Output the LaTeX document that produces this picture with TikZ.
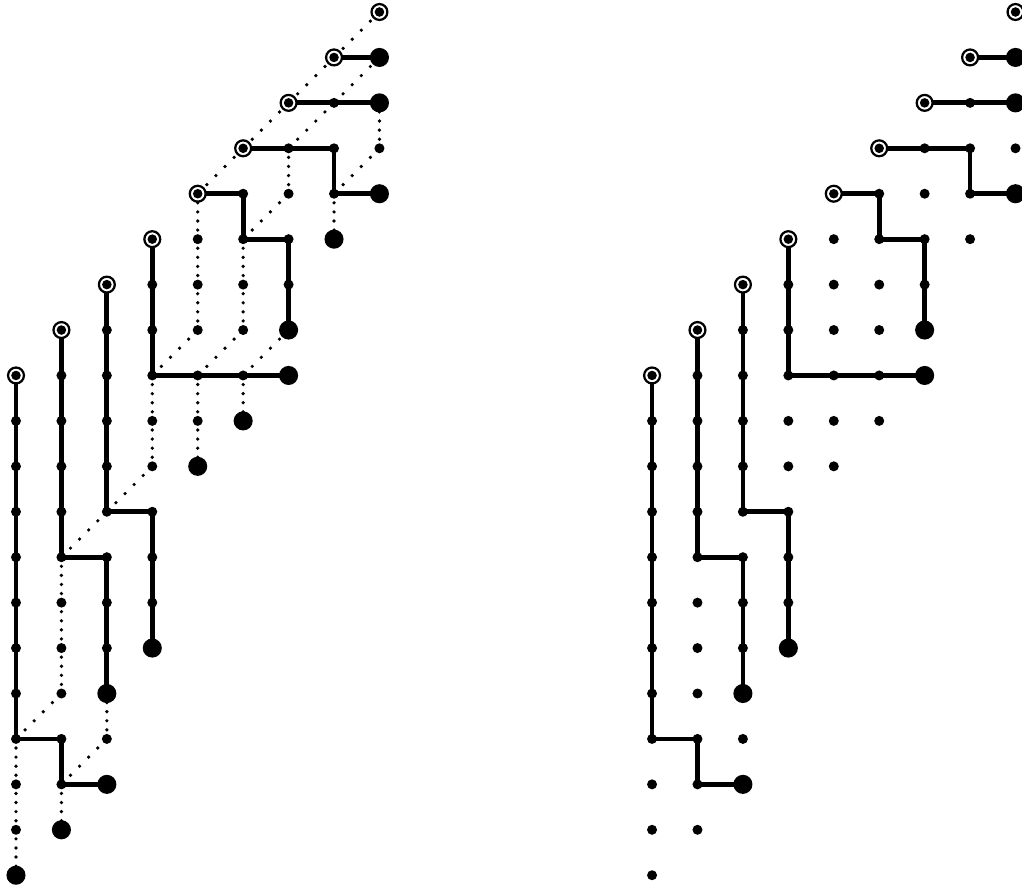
\documentclass[tikz,border=0pt]{standalone}
\usetikzlibrary{backgrounds}
\tikzset{
  smalldot/.style={circle, fill=black, inner sep=0pt, minimum size=0.22cm},
  bigdot/.style={circle, fill=black, inner sep=0pt, minimum size=0.42cm},
  startdot/.style={circle, draw=black, fill=white, line width=1.4pt, inner sep=0pt, minimum size=0.35cm,
    path picture={\fill[black] (path picture bounding box.center) circle (0.105cm);}},
  solidpath/.style={line width=3pt, line cap=round, line join=round},
  vdots/.style={line width=2.3pt, line cap=round, dash pattern=on 0pt off 0.2cm},
  ddots/.style={line width=2.3pt, line cap=round, dash pattern=on 0pt off 0.28284cm},
}
\makeatletter
\def\markbig#1#2{\foreach \p in {#2}{\expandafter\gdef\csname big#1-\p\endcsname{}}}
\makeatother
\markbig{L}{8-1,8-2,8-4,6-7,6-8,3-14,2-15,2-17,7-5,5-9,4-10,1-18,0-19}
\markbig{R}{8-1,8-2,8-4,6-7,6-8,3-14,2-15,2-17}
\begin{document}
\begin{tikzpicture}
\useasboundingbox (-0.352,0.264) rectangle (22.143,-19.242);
% lattice points
\foreach \side/\dx in {L/0,R/14} {
  \foreach \r/\lo/\hi in {0/8/8,1/7/8,2/6/8,3/5/8,4/4/8,5/3/7,6/2/6,7/1/6,8/0/6,9/0/5,10/0/4,
      11/0/3,12/0/3,13/0/3,14/0/3,15/0/2,16/0/2,17/0/2,18/0/1,19/0/0} {
    \foreach \c in {\lo,...,\hi} {
      \pgfmathtruncatemacro\s{8-\r}
      \ifnum\c=\s
        \node[startdot] (\side-\c-\r) at (\c+\dx,-\r) {};
      \else
        \ifcsname big\side-\c-\r\endcsname
          \node[bigdot] (\side-\c-\r) at (\c+\dx,-\r) {};
        \else
          \node[smalldot] (\side-\c-\r) at (\c+\dx,-\r) {};
        \fi
      \fi
    }
  }
}
\begin{pgfonlayer}{background}
\fill[white] (-0.352,0.264) rectangle (22.143,-19.242);
% solid paths (both diagrams)
\foreach \side in {L,R} {
  \draw[solidpath] (\side-7-1.center) -- (\side-8-1.center);
  \draw[solidpath] (\side-6-2.center) -- (\side-8-2.center);
  \draw[solidpath] (\side-5-3.center) -- (\side-7-3.center) -- (\side-7-4.center) -- (\side-8-4.center);
  \draw[solidpath] (\side-4-4.center) -- (\side-5-4.center) -- (\side-5-5.center) -- (\side-6-5.center) -- (\side-6-7.center);
  \draw[solidpath] (\side-3-5.center) -- (\side-3-8.center) -- (\side-6-8.center);
  \draw[solidpath] (\side-2-6.center) -- (\side-2-11.center) -- (\side-3-11.center) -- (\side-3-14.center);
  \draw[solidpath] (\side-1-7.center) -- (\side-1-12.center) -- (\side-2-12.center) -- (\side-2-15.center);
  \draw[solidpath] (\side-0-8.center) -- (\side-0-16.center) -- (\side-1-16.center) -- (\side-1-17.center) -- (\side-2-17.center);
}
% dotted paths (left diagram only): vertical unit steps
\foreach \c/\r [evaluate=\r as \n using int(\r+1)] in {4/4,4/5,4/6,3/8,3/9,1/12,1/13,1/14,0/16,0/17,0/18,
    6/3,5/5,5/6,4/8,4/9,8/2,7/4,5/8,2/15,1/17}
  \draw[vdots] (L-\c-\r.center) -- (L-\c-\n.center);
% dotted paths: diagonal unit steps
\foreach \c/\r [evaluate=\r as \n using int(\r+1), evaluate=\c as \m using int(\c-1)] in
    {8/0,7/1,6/2,5/3,4/7,3/10,2/11,1/15,8/1,7/2,6/4,5/7,8/3,6/7,2/16}
  \draw[ddots] (L-\c-\r.center) -- (L-\m-\n.center);
\end{pgfonlayer}
\end{tikzpicture}
\end{document}
